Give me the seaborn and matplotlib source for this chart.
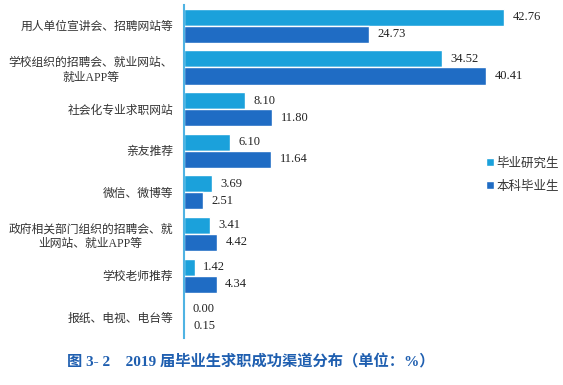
import matplotlib
matplotlib.use("Agg")
import matplotlib.pyplot as plt
import numpy as np
import pandas as pd
import seaborn as sns

# data
channels = [
    "用人单位宣讲会、招聘网站等",
    "学校组织的招聘会、就业网站、\n就业APP等",
    "社会化专业求职网站",
    "亲友推荐",
    "微信、微博等",
    "政府相关部门组织的招聘会、就\n业网站、就业APP等",
    "学校老师推荐",
    "报纸、电视、电台等",
]
graduate = [42.76, 34.52, 8.10, 6.10, 3.69, 3.41, 1.42, 0.00]
undergrad = [24.73, 40.41, 11.80, 11.64, 2.51, 4.42, 4.34, 0.15]
series = ["毕业研究生", "本科毕业生"]
colors = ["#1ba1db", "#1f6cc4"]

df = pd.DataFrame({
    "channel": channels * 2,
    "value": graduate + undergrad,
    "group": [series[0]] * len(channels) + [series[1]] * len(channels),
})

sns.set_theme(style="white")
plt.rcParams["font.family"] = ["Liberation Serif", "Noto Sans CJK SC", "DejaVu Sans"]

fig = plt.figure(figsize=(5.63, 3.85), dpi=100)
ax = fig.add_axes([0.327, 0.122, 0.63, 0.865])

sns.barplot(data=df, y="channel", x="value", hue="group", orient="h",
            palette=colors, width=0.82, saturation=1, ax=ax, legend=True)

for cont in ax.containers:
    ax.bar_label(cont, fmt="%.2f", padding=6, fontsize=9, color="#222222")

ax.set_xlim(0, 47.4)
ax.set_ylim(len(channels) - 0.5, -0.5)
ax.set_xlabel("")
ax.set_ylabel("")
ax.set_xticks([])

for s in ["top", "right", "bottom"]:
    ax.spines[s].set_visible(False)
ax.spines["left"].set_color("#4fb3e3")
ax.spines["left"].set_linewidth(1.5)

ax.tick_params(axis="y", which="major", length=0, pad=8, labelsize=8.5, labelcolor="#333333")
ax.set_yticks(np.arange(-0.5, len(channels), 1.0), minor=True)
ax.tick_params(axis="y", which="minor", length=3, direction="in", color="#4fb3e3", width=1)
for lbl in ax.get_yticklabels():
    lbl.set_multialignment("center")
    lbl.set_linespacing(1.3)

ax.legend(loc="center left", bbox_to_anchor=(0.82, 0.49), frameon=False,
          fontsize=9, handlelength=0.6, handleheight=0.6, handletextpad=0.2,
          labelspacing=0.9, labelcolor="#333333")

fig.text(0.445, 0.06, "图 3- 2    2019 届毕业生求职成功渠道分布（单位：%）",
         ha="center", va="center", fontsize=11, fontweight="bold", color="#1f5fb0")

fig.savefig("out.png", dpi=100)
